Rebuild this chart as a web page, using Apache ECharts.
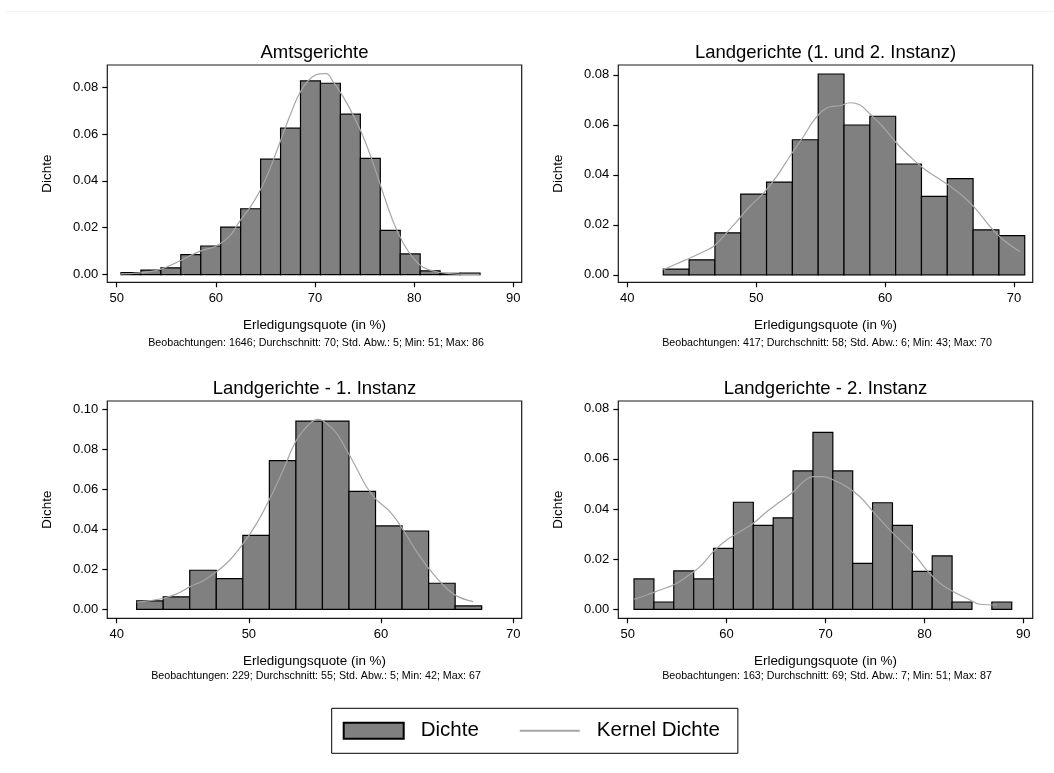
<!DOCTYPE html>
<html>
<head>
<meta charset="utf-8">
<title>Erledigungsquote</title>
<script src="https://cdn.jsdelivr.net/npm/echarts@6/dist/echarts.min.js"></script>
<style>
    html, body { margin: 0; padding: 0; background: #fff; }
    #chart { width: 1054px; height: 773px; }
</style>
</head>
<body>
<div id="chart"></div>
<script>
// Histogramme + Kerndichte der Erledigungsquote

// Amtsgerichte
var agBinStart = 50.43, agBinWidth = 2.012;
var agDichte = [0.0008, 0.0019, 0.0029, 0.0085, 0.0122, 0.0203, 0.0281, 0.0493, 0.0625, 0.0827, 0.0817, 0.0685, 0.0496, 0.0189, 0.0088, 0.0016, 0.0005, 0.0006];
var agKernX = [50.4, 52.3, 54.3, 56.3, 58.35, 60.0, 61.38, 62.39, 63.4, 64.41, 65.42, 66.43, 67.44, 68.45, 69.46, 70.47, 71.14, 71.82, 72.83, 73.84, 74.85, 75.86, 76.87, 77.88, 78.9, 79.9, 80.9, 82.3, 83.6, 85.0, 86.6];
var agKernY = [0.0003, 0.0007, 0.0021, 0.0057, 0.0099, 0.0121, 0.0163, 0.0227, 0.0284, 0.0355, 0.0448, 0.0561, 0.0675, 0.0774, 0.0834, 0.0857, 0.0858, 0.0824, 0.0760, 0.0682, 0.0590, 0.0476, 0.0348, 0.0227, 0.0135, 0.0071, 0.0031, 0.0011, 0.0004, 0.0001, 0.0001];

// Landgerichte (1. und 2. Instanz)
var lgBinStart = 42.79, lgBinWidth = 2.003;
var lgDichte = [0.0023, 0.0060, 0.0168, 0.0323, 0.0371, 0.0540, 0.0803, 0.0599, 0.0634, 0.0443, 0.0314, 0.0385, 0.0180, 0.0157];
var lgKernX = [42.8, 43.83, 44.86, 45.9, 46.67, 47.45, 48.48, 49.5, 50.55, 51.58, 52.6, 53.65, 54.69, 55.72, 56.5, 57.27, 58.05, 58.83, 59.86, 60.9, 61.93, 62.96, 64.0, 65.03, 66.07, 67.1, 68.14, 69.17, 70.46];
var lgKernY = [0.0020, 0.0044, 0.0067, 0.0092, 0.0113, 0.0153, 0.0213, 0.0273, 0.0326, 0.0393, 0.0473, 0.0552, 0.0632, 0.0672, 0.0676, 0.0688, 0.0679, 0.0643, 0.0590, 0.0526, 0.0473, 0.0426, 0.0390, 0.0355, 0.0313, 0.0260, 0.0193, 0.0140, 0.0092];

// Landgerichte - 1. Instanz
var lg1BinStart = 41.51, lg1BinWidth = 2.008;
var lg1Dichte = [0.0042, 0.0062, 0.0195, 0.0153, 0.0369, 0.0742, 0.0940, 0.0940, 0.0589, 0.0416, 0.0391, 0.0130, 0.0017];
var lg1KernX = [41.51, 42.52, 43.53, 44.54, 45.55, 46.55, 47.56, 48.57, 49.58, 50.59, 51.6, 52.6, 53.61, 54.62, 55.25, 55.88, 56.64, 57.39, 58.15, 58.9, 59.66, 60.67, 61.68, 62.69, 63.7, 64.7, 65.71, 66.97];
var lg1KernY = [0.0035, 0.0043, 0.0055, 0.0077, 0.0113, 0.0143, 0.0188, 0.0246, 0.0329, 0.0429, 0.0554, 0.0696, 0.0845, 0.0928, 0.0948, 0.0928, 0.0879, 0.0795, 0.0704, 0.0612, 0.0546, 0.0488, 0.0396, 0.0288, 0.0196, 0.0121, 0.0067, 0.0038];

// Landgerichte - 2. Instanz
var lg2BinStart = 50.64, lg2BinWidth = 2.010;
var lg2Dichte = [0.0121, 0.0029, 0.0153, 0.0121, 0.0243, 0.0427, 0.0335, 0.0365, 0.0552, 0.0706, 0.0552, 0.0183, 0.0425, 0.0335, 0.0151, 0.0213, 0.0029, 0, 0.0029];
var lg2KernX = [50.64, 51.92, 53.27, 54.62, 55.97, 57.31, 58.66, 60.0, 61.36, 62.7, 64.05, 65.4, 66.75, 67.76, 68.77, 69.78, 70.8, 72.14, 73.49, 74.84, 76.18, 77.54, 78.89, 80.23, 81.58, 82.93, 84.28, 85.62, 87.3];
var lg2KernY = [0.0040, 0.0057, 0.0077, 0.0097, 0.0130, 0.0170, 0.0230, 0.0276, 0.0310, 0.0343, 0.0389, 0.0429, 0.0469, 0.0509, 0.0529, 0.0529, 0.0516, 0.0489, 0.0449, 0.0389, 0.0330, 0.0276, 0.0223, 0.0157, 0.0104, 0.0070, 0.0044, 0.0020, 0.0017];

var titles = ['Amtsgerichte', 'Landgerichte (1. und 2. Instanz)', 'Landgerichte - 1. Instanz', 'Landgerichte - 2. Instanz'];
var notes = [
    'Beobachtungen: 1646; Durchschnitt: 70; Std. Abw.: 5; Min: 51; Max: 86',
    'Beobachtungen: 417; Durchschnitt: 58; Std. Abw.: 6; Min: 43; Max: 70',
    'Beobachtungen: 229; Durchschnitt: 55; Std. Abw.: 5; Min: 42; Max: 67',
    'Beobachtungen: 163; Durchschnitt: 69; Std. Abw.: 7; Min: 51; Max: 87'
];
var xTicks = [[50, 60, 70, 80, 90], [40, 50, 60, 70], [40, 50, 60, 70], [50, 60, 70, 80, 90]];
var yTicks8 = [0, 0.02, 0.04, 0.06, 0.08];
var yTicks10 = [0, 0.02, 0.04, 0.06, 0.08, 0.10];
var xName = 'Erledigungsquote (in %)';
var yName = 'Dichte';

var panels = [
    { start: agBinStart, width: agBinWidth, dichte: agDichte, kx: agKernX, ky: agKernY, yTicks: yTicks8 },
    { start: lgBinStart, width: lgBinWidth, dichte: lgDichte, kx: lgKernX, ky: lgKernY, yTicks: yTicks8 },
    { start: lg1BinStart, width: lg1BinWidth, dichte: lg1Dichte, kx: lg1KernX, ky: lg1KernY, yTicks: yTicks10 },
    { start: lg2BinStart, width: lg2BinWidth, dichte: lg2Dichte, kx: lg2KernX, ky: lg2KernY, yTicks: yTicks8 }
];

// layout (plot boxes, axis ranges)
var boxes = [
    { left: 107.3, top: 65 },
    { left: 618.3, top: 65 },
    { left: 107.3, top: 401 },
    { left: 618.3, top: 401 }
];
var boxW = 414.4, boxH = 217.3;
var xRange = [[49.05, 90.85], [39.30, 71.45], [39.29, 70.64], [49.05, 90.95]];
var yRange = [[-0.0033, 0.0895], [-0.0030, 0.0839], [-0.0045, 0.104], [-0.0036, 0.0831]];
var noteTop = [338, 338, 671, 671];
var titleTop = [43.5, 43.5, 379.5, 379.5];

var font = '"Liberation Sans", Arial, Helvetica, sans-serif';
var barFill = '#808080';
var kernColor = '#a6a6a6';

var myChart = echarts.init(document.getElementById('chart'));

function renderBar(params, api) {
    if (!api.value(2)) return;
    var p0 = api.coord([api.value(0), api.value(2)]);
    var p1 = api.coord([api.value(1), 0]);
    return {
        type: 'rect',
        shape: { x: p0[0], y: p0[1], width: p1[0] - p0[0], height: p1[1] - p0[1] },
        style: { fill: barFill, stroke: '#000', lineWidth: 1.2 }
    };
}

var grid = [], xAxis = [], yAxis = [], series = [], title = [];

for (var i = 0; i < panels.length; i++) {
    var p = panels[i];
    var cx = boxes[i].left + boxW / 2;

    grid.push({
        left: boxes[i].left, top: boxes[i].top, width: boxW, height: boxH,
        show: true, borderColor: '#1a1a1a', borderWidth: 1.2, backgroundColor: '#fff'
    });

    xAxis.push({
        type: 'value', gridIndex: i,
        min: xRange[i][0], max: xRange[i][1],
        name: xName, nameLocation: 'middle', nameGap: 37,
        nameTextStyle: { fontFamily: font, fontSize: 13.4, color: '#000' },
        axisLine: { show: false, onZero: false },
        axisTick: { show: true, length: 5, customValues: xTicks[i], lineStyle: { color: '#000', width: 1.2 } },
        axisLabel: { customValues: xTicks[i], margin: 10, fontFamily: font, fontSize: 13, color: '#000' },
        splitLine: { show: false }
    });

    yAxis.push({
        type: 'value', gridIndex: i,
        min: yRange[i][0], max: yRange[i][1],
        name: yName, nameLocation: 'middle', nameGap: 53,
        nameTextStyle: { fontFamily: font, fontSize: 13.4, color: '#000' },
        axisLine: { show: false, onZero: false },
        axisTick: { show: true, length: 5, customValues: p.yTicks, lineStyle: { color: '#000', width: 1.2 } },
        axisLabel: {
            customValues: p.yTicks, margin: 9, fontFamily: font, fontSize: 13, color: '#000',
            formatter: function (v) { return v.toFixed(2); }
        },
        splitLine: { show: false }
    });

    var bins = [];
    for (var j = 0; j < p.dichte.length; j++) {
        bins.push([p.start + j * p.width, p.start + (j + 1) * p.width, p.dichte[j]]);
    }
    series.push({
        name: 'Dichte', type: 'custom', xAxisIndex: i, yAxisIndex: i,
        renderItem: renderBar, data: bins, encode: { x: [0, 1], y: 2 },
        itemStyle: { color: barFill, borderColor: '#000', borderWidth: 1.2 },
        clip: true, silent: true
    });

    var kern = [];
    for (var k = 0; k < p.kx.length; k++) kern.push([p.kx[k], p.ky[k]]);
    series.push({
        name: 'Kernel Dichte', type: 'line', xAxisIndex: i, yAxisIndex: i,
        data: kern, smooth: 0.4, symbol: 'none', z: 5,
        lineStyle: { color: kernColor, width: 1.2 }, itemStyle: { color: kernColor },
        silent: true
    });

    title.push({
        text: titles[i], left: cx, top: titleTop[i], textAlign: 'center', padding: 0,
        textStyle: { fontFamily: font, fontSize: 18.5, fontWeight: 'normal', color: '#000' }
    });
    title.push({
        text: notes[i], left: cx + 1.5, top: noteTop[i], textAlign: 'center', padding: 0,
        textStyle: { fontFamily: font, fontSize: 10.7, fontWeight: 'normal', color: '#000' }
    });
}

var option = {
    backgroundColor: '#fff',
    animation: false,
    title: title,
    grid: grid,
    xAxis: xAxis,
    yAxis: yAxis,
    series: series,
    legend: {
        left: 331.7, top: 708.3,
        orient: 'horizontal',
        borderColor: '#000', borderWidth: 1,
        padding: [12, 18, 12, 11],
        itemWidth: 60, itemHeight: 16, itemGap: 40,
        selectedMode: false,
        textStyle: { fontFamily: font, fontSize: 20.5, color: '#000', padding: [0, 0, 0, 12] },
        data: [
            { name: 'Dichte', icon: 'rect', itemStyle: { color: barFill, borderColor: '#000', borderWidth: 2 } },
            {
                name: 'Kernel Dichte',
                itemStyle: { color: 'transparent', borderWidth: 0, opacity: 0 },
                lineStyle: { color: kernColor, width: 2 }
            }
        ]
    },
    graphic: [{
        type: 'line', silent: true,
        shape: { x1: 7, y1: 11.5, x2: 1054, y2: 11.5 },
        style: { stroke: '#f0f0f0', lineWidth: 1 }
    }]
};

myChart.setOption(option);
</script>
</body>
</html>
